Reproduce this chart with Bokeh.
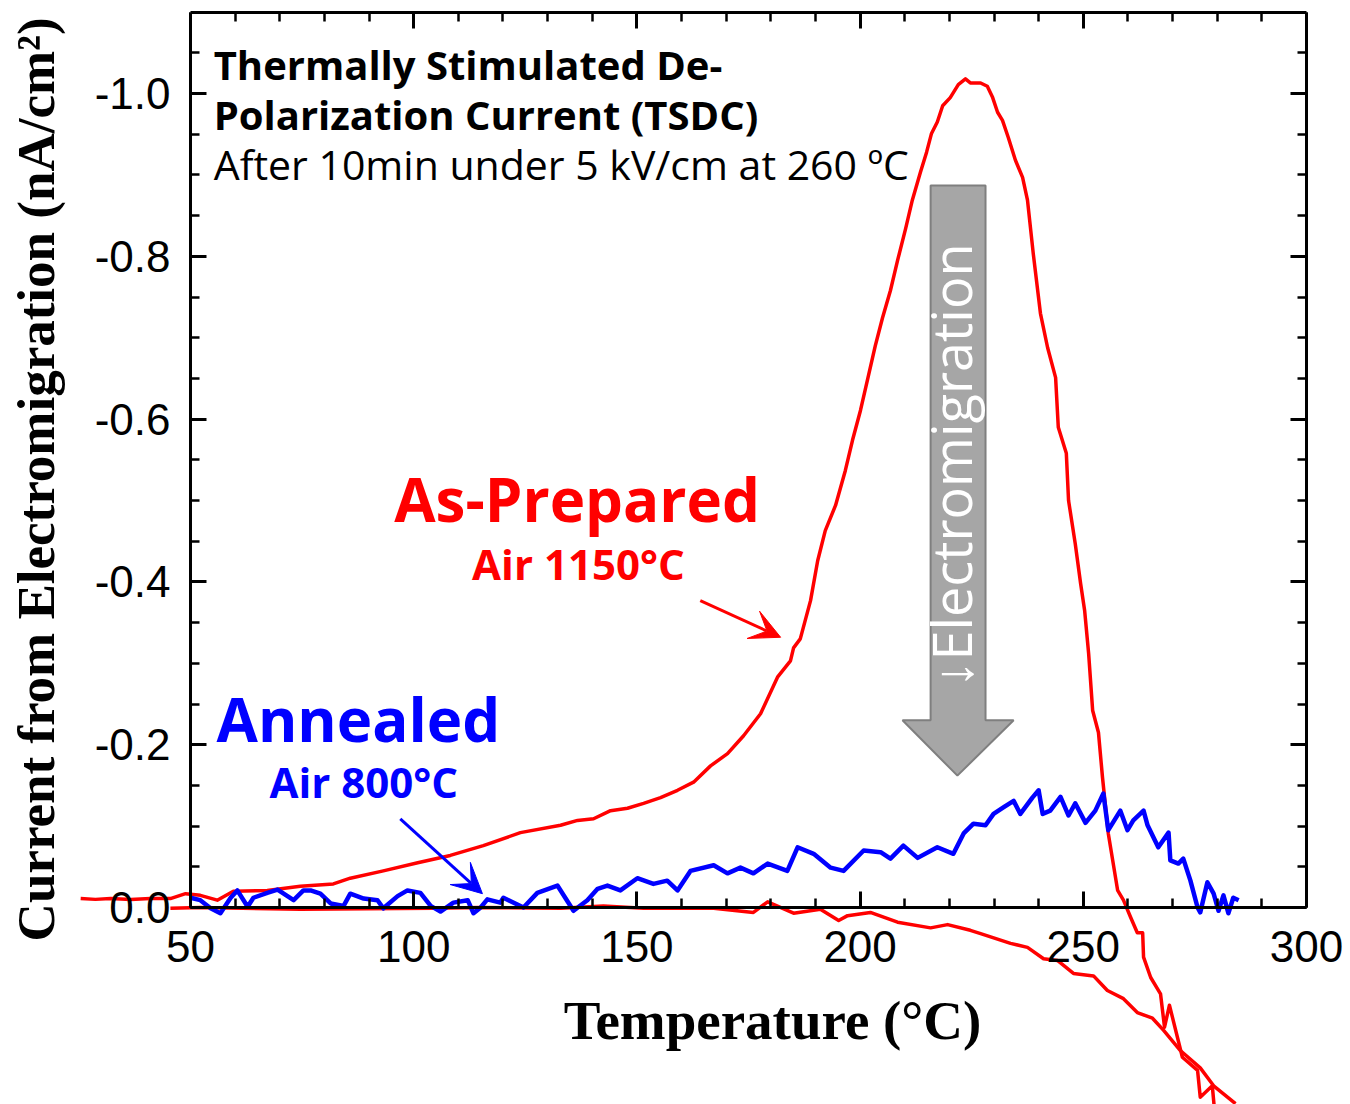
import math
from bokeh.plotting import figure
from bokeh.models import (Range1d, LinearAxis, FixedTicker, PrintfTickFormatter,
                          CustomJSTickFormatter, Label, Arrow, VeeHead)
from bokeh.embed import file_html
from bokeh.resources import INLINE

# ---------------- data ----------------
# As-Prepared (Air 1150 C): TSDC heating curve
asprep_T = [25.4, 28.7, 32.1, 36.6, 41.0, 45.5, 48.9, 52.2, 56.0, 59.6, 67.2, 74.6, 82.0, 85.8,
            93.2, 100.9, 108.2, 115.6, 123.9, 132.9, 136.7, 140.3, 144.1, 147.9, 151.5, 155.3,
            159.1, 162.7, 166.5, 170.3, 173.9, 177.7, 181.5, 184.4, 185.1, 186.6, 188.9, 190.5,
            192.2, 194.5, 196.7, 198.3, 200.1, 201.9, 203.4, 205.0, 206.8, 208.4, 210.2, 211.7,
            213.5, 214.9, 216.0, 217.3, 218.5, 220.2, 222.0, 223.6, 224.7, 227.0, 228.5, 229.7,
            230.8, 231.9, 233.2, 234.8, 236.4, 237.5, 238.8, 240.4, 242.0, 243.8, 244.4, 246.2,
            246.7, 248.2, 249.4, 250.3, 251.2, 252.1, 253.4, 254.3, 255.6, 257.7, 259.0, 260.6,
            262.1, 263.3, 263.5, 265.1, 267.3, 268.2, 269.3, 272.2, 275.6, 276.2, 278.9, 279.4]
asprep_I = [-0.011, -0.010, -0.011, -0.010, -0.011, -0.011, -0.017, -0.015, -0.009, -0.020,
            -0.021, -0.026, -0.029, -0.036, -0.045, -0.055, -0.064, -0.076, -0.092, -0.101,
            -0.107, -0.109, -0.119, -0.122, -0.128, -0.135, -0.144, -0.154, -0.174, -0.189,
            -0.211, -0.238, -0.283, -0.303, -0.319, -0.330, -0.377, -0.426, -0.463, -0.494,
            -0.537, -0.574, -0.611, -0.654, -0.690, -0.724, -0.758, -0.795, -0.834, -0.869,
            -0.903, -0.928, -0.951, -0.965, -0.985, -0.995, -1.011, -1.018, -1.013, -1.013,
            -1.009, -0.995, -0.977, -0.967, -0.946, -0.918, -0.897, -0.869, -0.803, -0.730,
            -0.688, -0.651, -0.590, -0.558, -0.500, -0.447, -0.398, -0.365, -0.312, -0.242,
            -0.215, -0.160, -0.091, -0.021, -0.009, 0.012, 0.031, 0.031, 0.061, 0.086,
            0.106, 0.147, 0.120, 0.184, 0.200, 0.233, 0.219, 0.249]

# second red trace (baseline run)
base_T = [45.5, 52.2, 74.6, 104.4, 115.0, 132.9, 142.5, 151.5, 167.2, 176.1, 179.3, 185.1,
          191.1, 195.2, 197.2, 202.3, 208.4, 215.8, 219.6, 224.7, 227.0, 233.7, 237.5, 241.1,
          244.2, 247.8, 252.3, 255.4, 259.0, 262.1, 265.5, 268.0, 271.8, 276.2, 279.2, 284.1]
base_I = [0.001, 0.000, 0.002, 0.001, 0.000, 0.001, -0.002, 0.001, 0.001, 0.006, -0.007, 0.007,
          0.002, 0.016, 0.010, 0.006, 0.018, 0.025, 0.021, 0.028, 0.032, 0.044, 0.049, 0.063,
          0.065, 0.081, 0.084, 0.102, 0.112, 0.129, 0.136, 0.151, 0.176, 0.197, 0.219, 0.241]

# Annealed (Air 800 C)
ann_T = [50.0, 52.2, 54.5, 56.7, 59.0, 60.5, 62.8, 64.1, 67.2, 69.5, 73.1, 75.3, 76.9, 79.1,
         81.4, 84.3, 85.8, 88.8, 91.9, 93.2, 96.4, 98.6, 101.5, 103.8, 106.0, 108.9, 112.1,
         113.4, 115.0, 116.5, 119.4, 120.1, 124.6, 127.7, 132.2, 135.8, 138.9, 141.2, 143.4,
         146.3, 150.1, 153.7, 156.8, 159.1, 162.0, 167.2, 170.3, 173.2, 176.1, 179.3, 183.7,
         186.0, 189.6, 193.4, 196.3, 200.8, 204.6, 206.8, 209.7, 212.9, 217.3, 220.9, 223.2,
         225.4, 228.1, 229.9, 232.1, 234.4, 235.9, 238.6, 240.0, 240.9, 242.6, 244.9, 246.7,
         248.2, 250.5, 252.7, 254.5, 255.6, 258.3, 259.9, 261.2, 263.5, 264.4, 266.8, 269.1,
         269.5, 271.3, 272.4, 274.0, 275.6, 276.2, 277.8, 279.2, 280.3, 281.4, 282.5, 283.6,
         284.8]
ann_I = [-0.012, -0.009, 0.001, 0.007, -0.012, -0.021, -0.001, -0.012, -0.018, -0.022, -0.009,
         -0.021, -0.021, -0.017, -0.005, -0.002, -0.017, -0.011, -0.009, 0.001, -0.014, -0.021,
         -0.018, -0.002, 0.005, -0.006, -0.009, 0.007, 0.000, -0.010, -0.006, -0.012, 0.000,
         -0.018, -0.027, 0.004, -0.009, -0.023, -0.027, -0.021, -0.036, -0.029, -0.033, -0.021,
         -0.045, -0.052, -0.042, -0.049, -0.042, -0.054, -0.045, -0.074, -0.066, -0.049, -0.045,
         -0.070, -0.068, -0.060, -0.076, -0.061, -0.074, -0.066, -0.091, -0.103, -0.101, -0.115,
         -0.123, -0.131, -0.115, -0.135, -0.144, -0.115, -0.119, -0.136, -0.113, -0.128, -0.104,
         -0.119, -0.140, -0.095, -0.119, -0.095, -0.107, -0.119, -0.101, -0.074, -0.092, -0.058,
         -0.054, -0.060, -0.033, 0.000, 0.006, -0.031, -0.017, 0.004, -0.015, 0.007, -0.012,
         -0.009]

x_major = [50, 100, 150, 200, 250, 300]
x_minor = [60, 70, 80, 90, 110, 120, 130, 140, 160, 170, 180, 190,
           210, 220, 230, 240, 260, 270, 280, 290]
y_major = [-1.0, -0.8, -0.6, -0.4, -0.2, 0.0]
y_minor = [-1.05, -0.95, -0.9, -0.85, -0.75, -0.7, -0.65, -0.55, -0.5, -0.45,
           -0.35, -0.3, -0.25, -0.15, -0.1, -0.05]

x_title = "Temperature (°C)"
y_title = "Current from Electromigration (nA/cm²)"

# ---------------- figure ----------------
p = figure(width=1350, height=1104, output_backend="svg", toolbar_location=None,
           x_range=Range1d(7.44, 309.86), y_range=Range1d(0.2420, -1.1143),
           x_axis_location=None, y_axis_location=None, min_border=0)
p.outline_line_color = None
p.grid.visible = False
p.background_fill_color = "white"
p.border_fill_color = "white"


def style(ax, show_labels):
    ax.axis_line_width = 3
    ax.axis_line_color = "black"
    ax.major_tick_in = 16
    ax.major_tick_out = 0
    ax.minor_tick_in = 9
    ax.minor_tick_out = 0
    ax.major_tick_line_width = 3
    ax.minor_tick_line_width = 2.5
    ax.major_tick_line_color = "black"
    ax.minor_tick_line_color = "black"
    ax.major_label_text_font = "Liberation Sans"
    ax.major_label_text_font_size = "44px"
    ax.major_label_text_color = "black"
    if not show_labels:
        ax.formatter = CustomJSTickFormatter(code="return ''")


xb = LinearAxis(fixed_location=0.0, bounds=(50, 300),
                ticker=FixedTicker(ticks=x_major, minor_ticks=x_minor),
                formatter=PrintfTickFormatter(format="%d"))
style(xb, True)
xb.major_label_standoff = 23
p.add_layout(xb, "below")

yl = LinearAxis(fixed_location=50.0, bounds=(-1.1, 0.0),
                ticker=FixedTicker(ticks=y_major, minor_ticks=y_minor),
                formatter=PrintfTickFormatter(format="%.1f"))
style(yl, True)
yl.major_label_standoff = 20
p.add_layout(yl, "left")

xt = LinearAxis(fixed_location=-1.1, bounds=(50, 300),
                ticker=FixedTicker(ticks=x_major, minor_ticks=x_minor))
style(xt, False)
p.add_layout(xt, "above")

yr = LinearAxis(fixed_location=300.0, bounds=(-1.1, 0.0),
                ticker=FixedTicker(ticks=y_major, minor_ticks=y_minor))
style(yr, False)
p.add_layout(yr, "right")

# axis titles
p.add_layout(Label(x=180.4, y=0.139, text=x_title, text_font="Liberation Serif",
                   text_font_style="bold", text_font_size="55px", text_color="black",
                   text_align="center", text_baseline="alphabetic"))
p.add_layout(Label(x=15.3, y=-0.526, text=y_title, angle=math.pi / 2,
                   text_font="Liberation Serif", text_font_style="bold",
                   text_font_size="53px", text_color="black",
                   text_align="center", text_baseline="alphabetic"))

# ---------------- curves ----------------
p.line(base_T, base_I, line_color="#FF0000", line_width=3.5, line_join="round")
p.line(asprep_T, asprep_I, line_color="#FF0000", line_width=3.5, line_join="round")
p.line(ann_T, ann_I, line_color="#0000FF", line_width=4.5, line_join="round")

# ---------------- big gray arrow ----------------
arrow_x = [215.8, 228.1, 228.1, 234.4, 221.8, 209.5, 215.8]
arrow_y = [-0.887, -0.887, -0.230, -0.230, -0.162, -0.230, -0.230]
p.patch(arrow_x, arrow_y, fill_color="#A6A6A6", line_color="#7F7F7F", line_width=2)
p.add_layout(Label(x=220.4, y=-0.543, text="↓Electromigration", angle=math.pi / 2,
                   text_align="center", text_baseline="middle", text_color="white",
                   text_font="Open Sans", text_font_size="54px"))

# ---------------- annotations ----------------
p.add_layout(Label(x=55.2, y=-1.0356, text="Thermally Stimulated De-", text_font="Open Sans",
                   text_font_style="bold", text_font_size="40px", text_color="black",
                   text_baseline="alphabetic", text_align="left"))
p.add_layout(Label(x=55.2, y=-0.9742, text="Polarization Current (TSDC)", text_font="Open Sans",
                   text_font_style="bold", text_font_size="40px", text_color="black",
                   text_baseline="alphabetic", text_align="left"))
p.add_layout(Label(x=55.2, y=-0.9140, text="After 10min under 5 kV/cm at 260 ºC",
                   text_font="Open Sans", text_font_size="41px", text_color="black",
                   text_baseline="alphabetic", text_align="left"))

p.add_layout(Label(x=136.6, y=-0.5024, text="As-Prepared", text_font="Open Sans",
                   text_font_style="bold", text_font_size="60px", text_color="#FF0000",
                   text_baseline="alphabetic", text_align="center"))
p.add_layout(Label(x=136.9, y=-0.4226, text="Air 1150°C", text_font="Open Sans",
                   text_font_style="bold", text_font_size="42px", text_color="#FF0000",
                   text_baseline="alphabetic", text_align="center"))
p.add_layout(Label(x=87.6, y=-0.2322, text="Annealed", text_font="Open Sans",
                   text_font_style="bold", text_font_size="60px", text_color="#0000FF",
                   text_baseline="alphabetic", text_align="center"))
p.add_layout(Label(x=88.8, y=-0.1548, text="Air 800°C", text_font="Open Sans",
                   text_font_style="bold", text_font_size="42px", text_color="#0000FF",
                   text_baseline="alphabetic", text_align="center"))

p.add_layout(Arrow(x_start=164.2, y_start=-0.377, x_end=182.2, y_end=-0.332,
                   line_color="#FF0000", line_width=3,
                   end=VeeHead(size=30, fill_color="#FF0000", line_color="#FF0000")))
p.add_layout(Arrow(x_start=97.0, y_start=-0.109, x_end=115.4, y_end=-0.017,
                   line_color="#0000FF", line_width=3,
                   end=VeeHead(size=30, fill_color="#0000FF", line_color="#0000FF")))

open("out.html", "w").write(file_html(p, INLINE))
